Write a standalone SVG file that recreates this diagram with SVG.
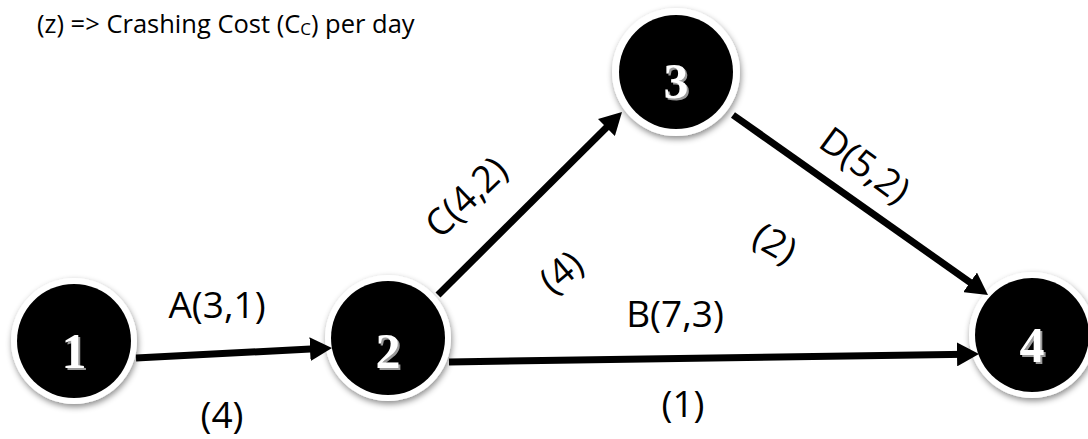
<svg xmlns="http://www.w3.org/2000/svg" width="1088" height="439" viewBox="0 0 1088 439">
<style>
.lbl{font-family:"Open Sans","Liberation Sans",sans-serif;font-size:37px;fill:#000;text-anchor:middle}
.top{font-family:"Open Sans","Liberation Sans",sans-serif;font-size:25.5px;fill:#000}
.ring{fill:#fff;filter:url(#sh)}
.core{fill:#000}
.num{font-family:"Liberation Serif","DejaVu Serif",serif;font-size:50px;text-anchor:middle;font-weight:bold}
.numsh{fill:#9a9a9a}
.numfg{fill:#fff}
.edge{stroke:#000;stroke-width:7;fill:none;marker-end:url(#ah)}
</style>
<defs>
<filter id="sh" x="-30%" y="-30%" width="160%" height="160%">
<feDropShadow dx="1" dy="3" stdDeviation="3" flood-color="#000" flood-opacity="0.45"/>
</filter>
<marker id="ah" markerUnits="userSpaceOnUse" markerWidth="22" markerHeight="24" refX="10" refY="12" orient="auto">
<path d="M0,0 L22,12 L0,24 z" fill="#000"/>
</marker>
</defs>
<rect width="1088" height="439" fill="#fff"/>
<text class="top" x="37" y="33">(z) =&gt; Crashing Cost (C<tspan font-size="17" dy="2">C</tspan><tspan dy="-2">) per day</tspan></text>

<g id="node1">
<circle class="ring" cx="74" cy="341" r="63"/>
<circle class="core" cx="74" cy="341" r="57"/>
<text class="num numsh" x="76" y="370">1</text>
<text class="num numfg" x="74" y="368">1</text>
</g>
<g id="node2">
<circle class="ring" cx="388" cy="338" r="63"/>
<circle class="core" cx="388" cy="338" r="57"/>
<text class="num numsh" x="390" y="370">2</text>
<text class="num numfg" x="388" y="368">2</text>
</g>
<g id="node3">
<circle class="ring" cx="676" cy="72" r="64"/>
<circle class="core" cx="676" cy="72" r="57"/>
<text class="num numsh" x="678" y="100">3</text>
<text class="num numfg" x="676" y="98">3</text>
</g>
<g id="node4">
<circle class="ring" cx="1032" cy="335" r="63"/>
<circle class="core" cx="1032" cy="335" r="57"/>
<text class="num numsh" x="1034" y="364">4</text>
<text class="num numfg" x="1032" y="362">4</text>
</g>

<g id="connectors">
<path class="edge" d="M136,358 L320,348.6"/>
<path class="edge" d="M449,362 L967,354.2"/>
<path class="edge" d="M438,295 L613.5,120.5"/>
<path class="edge" d="M733,115 L978.2,288.1"/>
</g>

<g id="labels">
<text class="lbl" x="217" y="318">A(3,1)</text>
<text class="lbl" x="222" y="428">(4)</text>
<text class="lbl" x="675" y="327">B(7,3)</text>
<text class="lbl" x="683" y="417">(1)</text>
<text class="lbl" transform="translate(466,197) rotate(-44)" y="13">C(4,2)</text>
<text class="lbl" transform="translate(561,272) rotate(-40)" y="13">(4)</text>
<text class="lbl" transform="translate(865,165) rotate(36)" y="13">D(5,2)</text>
<text class="lbl" transform="translate(775,243) rotate(30)" y="13">(2)</text>
</g>
</svg>
